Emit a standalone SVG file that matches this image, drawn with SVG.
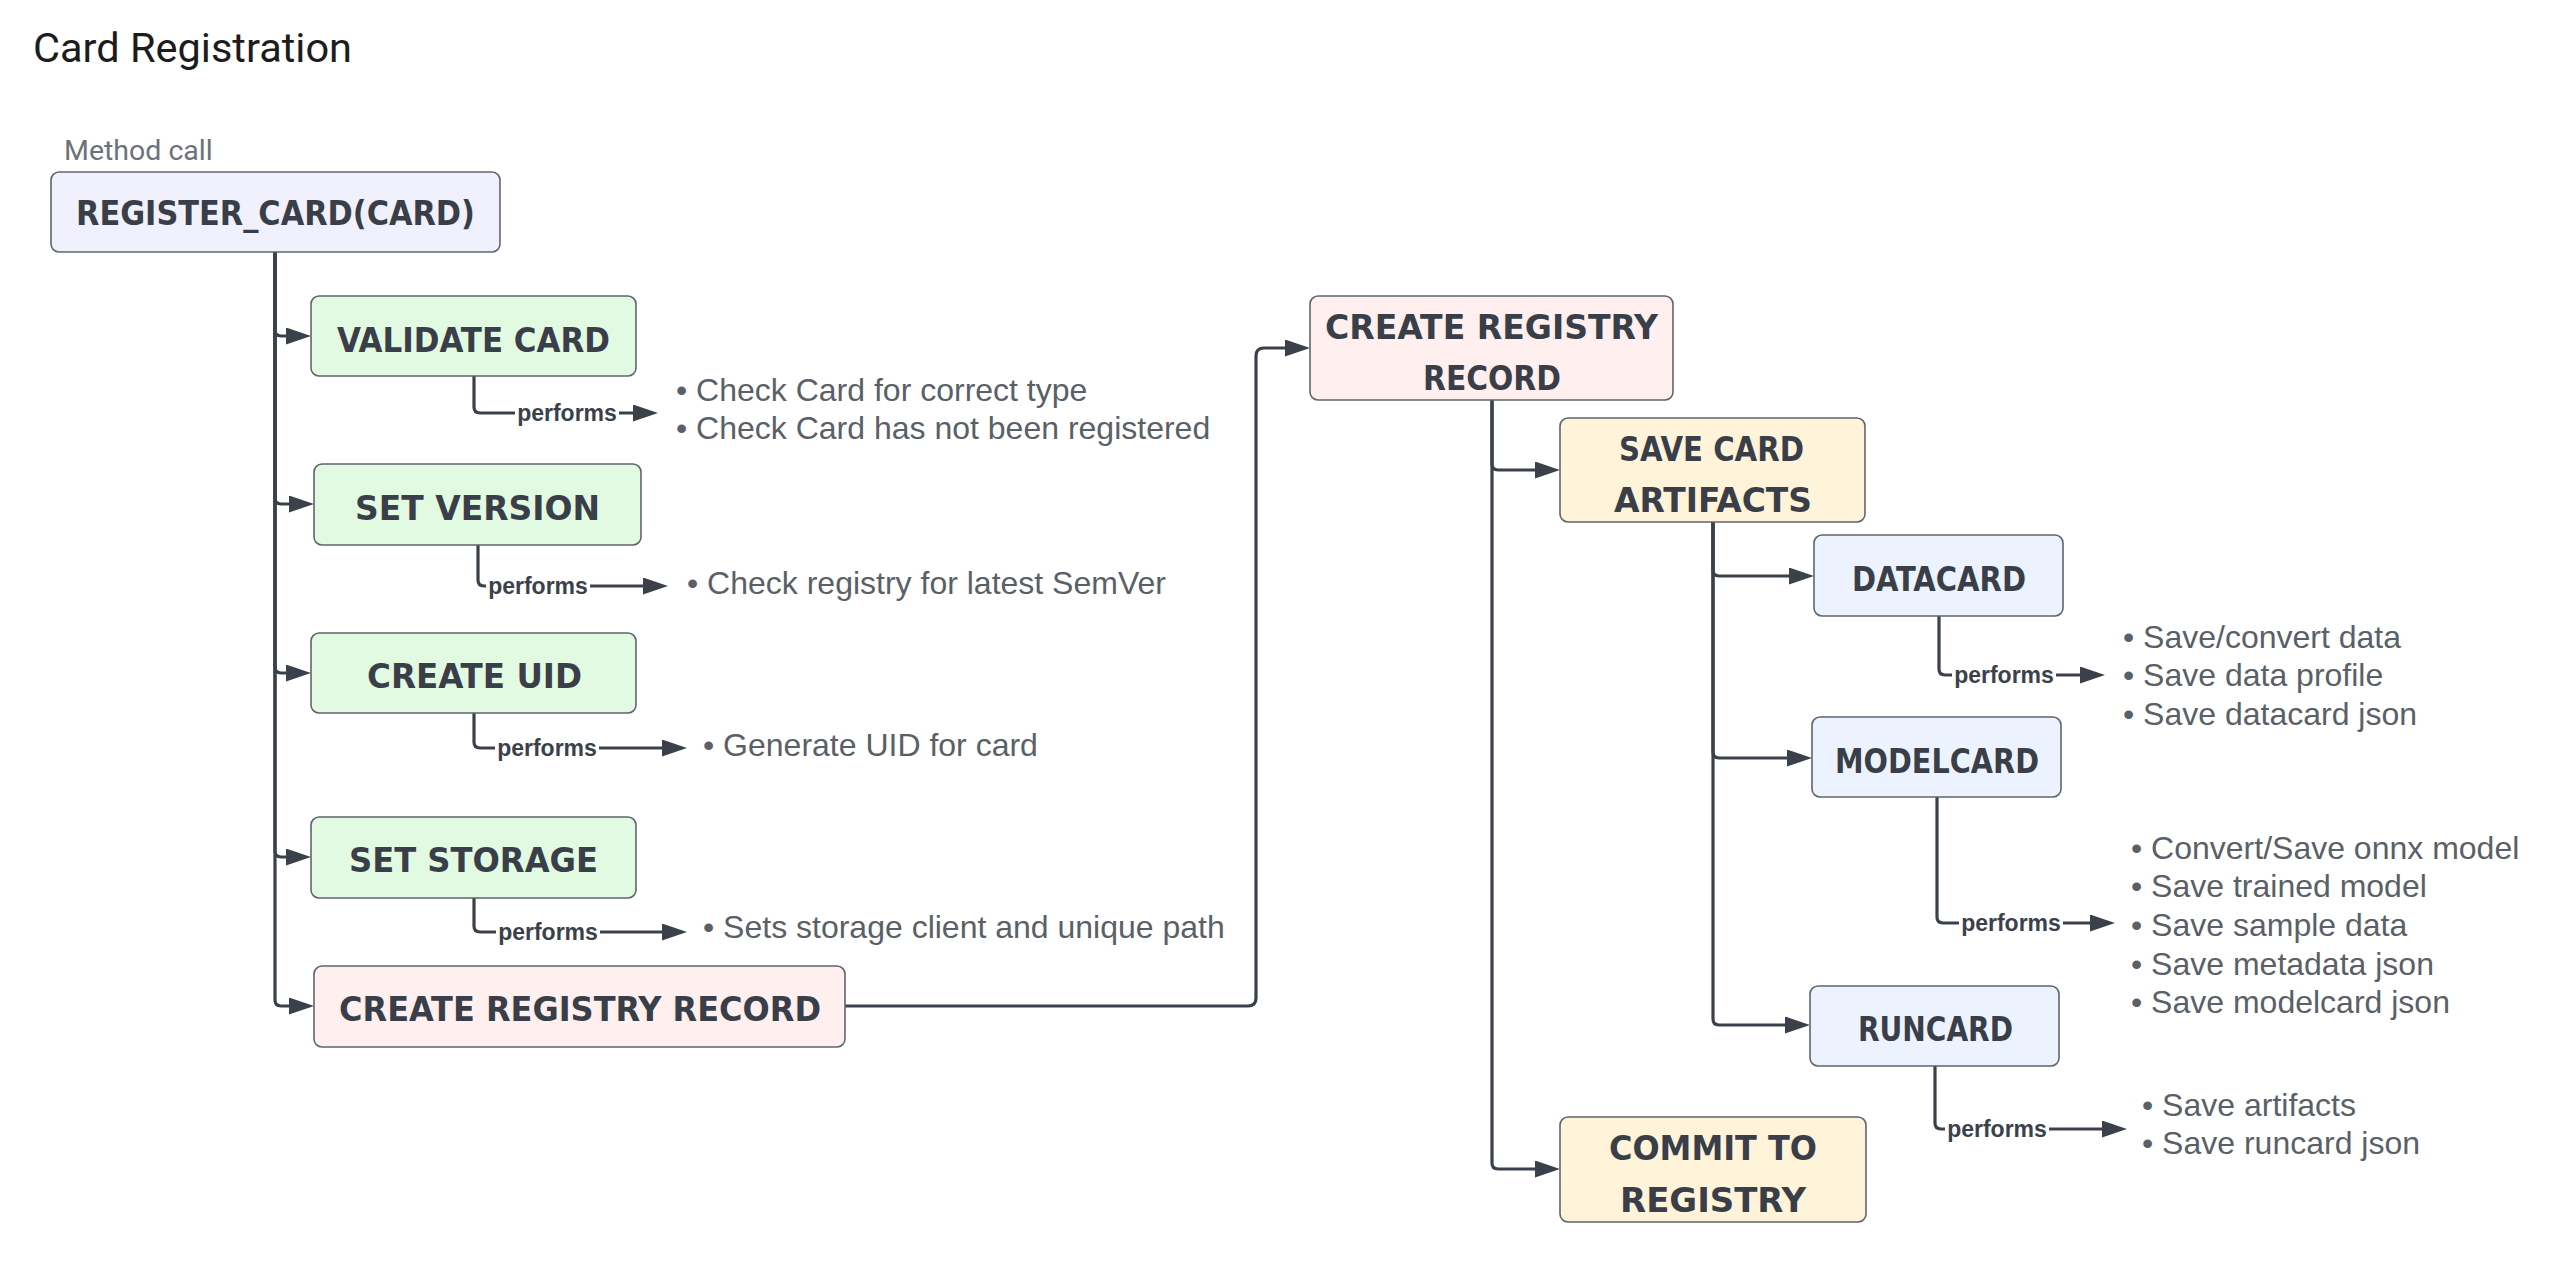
<svg xmlns="http://www.w3.org/2000/svg" width="2570" height="1266" viewBox="0 0 2570 1266">
<defs>
<marker id="arr" markerUnits="userSpaceOnUse" markerWidth="25" markerHeight="17" refX="12" refY="8.5" orient="auto">
<path d="M0,0 L25,8.5 L0,17 z" fill="#3b414b"/>
</marker>
<style>
.box{stroke:#5f646d;stroke-width:1.6}
.lav{fill:#f1f1fd}.grn{fill:#e2f9e2}.pnk{fill:#fff0ef}.yel{fill:#fff3da}.blu{fill:#ecf3ff}
.nt{font-family:"DejaVu Sans Condensed","DejaVu Sans",sans-serif;font-weight:bold;font-size:34px;fill:#393e48}
.c{fill:none;stroke:#3b414b;stroke-width:3.2}
.pl{font-family:"Liberation Sans",Arial,sans-serif;font-weight:bold;font-size:23px;fill:#3b414b;text-anchor:middle}
.bt{font-family:"Liberation Sans",Arial,sans-serif;font-size:32px;fill:#5b5f67}
</style>
</defs>
<rect width="2570" height="1266" fill="#ffffff"/>
<text x="33" y="62" font-family="Roboto,sans-serif" font-size="41.5" fill="#1c1c1c">Card Registration</text>
<text x="64" y="160" font-family="Roboto,sans-serif" font-size="28.5" fill="#6e7179">Method call</text>

<g id="connectors">
<path class="c" d="M275,252 V330 Q275,336 281,336 H298" marker-end="url(#arr)"/>
<path class="c" d="M275,252 V498 Q275,504 281,504 H301" marker-end="url(#arr)"/>
<path class="c" d="M275,252 V667 Q275,673 281,673 H298" marker-end="url(#arr)"/>
<path class="c" d="M275,252 V851 Q275,857 281,857 H298" marker-end="url(#arr)"/>
<path class="c" d="M275,252 V1000 Q275,1006 281,1006 H301" marker-end="url(#arr)"/>
<path class="c" d="M845,1006 H1248 Q1256,1006 1256,998 V356 Q1256,348 1264,348 H1297" marker-end="url(#arr)"/>
<path class="c" d="M1492,400 V464 Q1492,470 1498,470 H1547" marker-end="url(#arr)"/>
<path class="c" d="M1492,400 V1163 Q1492,1169 1498,1169 H1547" marker-end="url(#arr)"/>
<path class="c" d="M1713,522 V570 Q1713,576 1719,576 H1801" marker-end="url(#arr)"/>
<path class="c" d="M1713,522 V752 Q1713,758 1719,758 H1799" marker-end="url(#arr)"/>
<path class="c" d="M1713,522 V1019 Q1713,1025 1719,1025 H1797" marker-end="url(#arr)"/>
<path class="c" d="M474,376 V407 Q474,413 480,413 H645" marker-end="url(#arr)"/>
<path class="c" d="M478,545 V580 Q478,586 484,586 H655" marker-end="url(#arr)"/>
<path class="c" d="M474,713 V742 Q474,748 480,748 H674" marker-end="url(#arr)"/>
<path class="c" d="M474,898 V926 Q474,932 480,932 H674" marker-end="url(#arr)"/>
<path class="c" d="M1939,616 V669 Q1939,675 1945,675 H2092" marker-end="url(#arr)"/>
<path class="c" d="M1937,797 V917 Q1937,923 1943,923 H2102" marker-end="url(#arr)"/>
<path class="c" d="M1935,1066 V1123 Q1935,1129 1941,1129 H2114" marker-end="url(#arr)"/>
<g id="connector-labels">
<rect x="515" y="401" width="104" height="24" fill="#fff"/><text class="pl" x="567" y="421">performs</text>
<rect x="486" y="574" width="104" height="24" fill="#fff"/><text class="pl" x="538" y="594">performs</text>
<rect x="495" y="736" width="104" height="24" fill="#fff"/><text class="pl" x="547" y="756">performs</text>
<rect x="496" y="920" width="104" height="24" fill="#fff"/><text class="pl" x="548" y="940">performs</text>
<rect x="1952" y="663" width="104" height="24" fill="#fff"/><text class="pl" x="2004" y="683">performs</text>
<rect x="1959" y="911" width="104" height="24" fill="#fff"/><text class="pl" x="2011" y="931">performs</text>
<rect x="1945" y="1117" width="104" height="24" fill="#fff"/><text class="pl" x="1997" y="1137">performs</text>
</g>
</g>

<g id="node-register">
<rect class="box lav" x="51" y="172" width="449" height="80" rx="8"/>
<text class="nt" x="76" y="225" textLength="399" lengthAdjust="spacingAndGlyphs">REGISTER_CARD(CARD)</text>
</g>
<g id="node-validate">
<rect class="box grn" x="311" y="296" width="325" height="80" rx="8"/>
<text class="nt" x="337" y="352" textLength="273" lengthAdjust="spacingAndGlyphs">VALIDATE CARD</text>
</g>
<g id="node-setversion">
<rect class="box grn" x="314" y="464" width="327" height="81" rx="8"/>
<text class="nt" x="355" y="520" textLength="245" lengthAdjust="spacingAndGlyphs">SET VERSION</text>
</g>
<g id="node-createuid">
<rect class="box grn" x="311" y="633" width="325" height="80" rx="8"/>
<text class="nt" x="367" y="688" textLength="215" lengthAdjust="spacingAndGlyphs">CREATE UID</text>
</g>
<g id="node-setstorage">
<rect class="box grn" x="311" y="817" width="325" height="81" rx="8"/>
<text class="nt" x="349" y="872" textLength="249" lengthAdjust="spacingAndGlyphs">SET STORAGE</text>
</g>
<g id="node-createrecord-left">
<rect class="box pnk" x="314" y="966" width="531" height="81" rx="8"/>
<text class="nt" x="339" y="1021" textLength="482" lengthAdjust="spacingAndGlyphs">CREATE REGISTRY RECORD</text>
</g>
<g id="node-createrecord-right">
<rect class="box pnk" x="1310" y="296" width="363" height="104" rx="8"/>
<text class="nt" x="1325" y="339" textLength="333" lengthAdjust="spacingAndGlyphs">CREATE REGISTRY</text>
<text class="nt" x="1423" y="390" textLength="138" lengthAdjust="spacingAndGlyphs">RECORD</text>
</g>
<g id="node-savecard">
<rect class="box yel" x="1560" y="418" width="305" height="104" rx="8"/>
<text class="nt" x="1619" y="461" textLength="185" lengthAdjust="spacingAndGlyphs">SAVE CARD</text>
<text class="nt" x="1614" y="512" textLength="198" lengthAdjust="spacingAndGlyphs">ARTIFACTS</text>
</g>
<g id="node-datacard">
<rect class="box blu" x="1814" y="535" width="249" height="81" rx="8"/>
<text class="nt" x="1852" y="591" textLength="174" lengthAdjust="spacingAndGlyphs">DATACARD</text>
</g>
<g id="node-modelcard">
<rect class="box blu" x="1812" y="717" width="249" height="80" rx="8"/>
<text class="nt" x="1835" y="773" textLength="204" lengthAdjust="spacingAndGlyphs">MODELCARD</text>
</g>
<g id="node-runcard">
<rect class="box blu" x="1810" y="986" width="249" height="80" rx="8"/>
<text class="nt" x="1858" y="1041" textLength="155" lengthAdjust="spacingAndGlyphs">RUNCARD</text>
</g>
<g id="node-commit">
<rect class="box yel" x="1560" y="1117" width="306" height="105" rx="8"/>
<text class="nt" x="1609" y="1160" textLength="208" lengthAdjust="spacingAndGlyphs">COMMIT TO</text>
<text class="nt" x="1620" y="1212" textLength="186" lengthAdjust="spacingAndGlyphs">REGISTRY</text>
</g>

<g id="notes-validate">
<text class="bt" x="676" y="401">• Check Card for correct type</text>
<text class="bt" x="676" y="439">• Check Card has not been registered</text>
</g>
<g id="notes-setversion"><text class="bt" x="687" y="594">• Check registry for latest SemVer</text></g>
<g id="notes-createuid"><text class="bt" x="703" y="756">• Generate UID for card</text></g>
<g id="notes-setstorage"><text class="bt" x="703" y="938">• Sets storage client and unique path</text></g>
<g id="notes-datacard">
<text class="bt" x="2123" y="648">• Save/convert data</text>
<text class="bt" x="2123" y="686">• Save data profile</text>
<text class="bt" x="2123" y="725">• Save datacard json</text>
</g>
<g id="notes-modelcard">
<text class="bt" x="2131" y="859">• Convert/Save onnx model</text>
<text class="bt" x="2131" y="897">• Save trained model</text>
<text class="bt" x="2131" y="936">• Save sample data</text>
<text class="bt" x="2131" y="975">• Save metadata json</text>
<text class="bt" x="2131" y="1013">• Save modelcard json</text>
</g>
<g id="notes-runcard">
<text class="bt" x="2142" y="1116">• Save artifacts</text>
<text class="bt" x="2142" y="1154">• Save runcard json</text>
</g>
</svg>
